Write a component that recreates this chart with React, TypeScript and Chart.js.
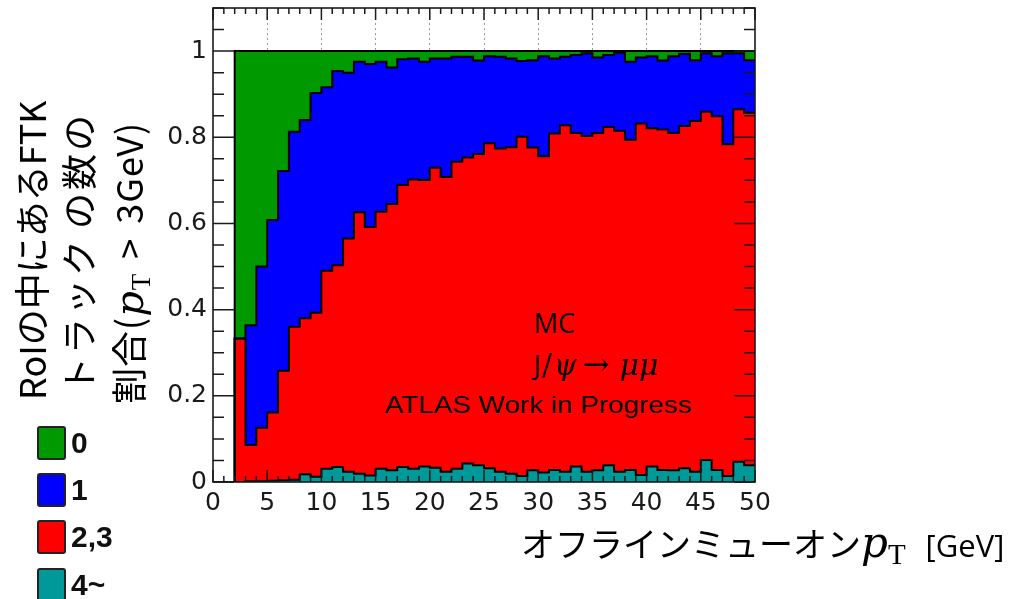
import React, { useEffect, useRef } from "react";
import { Chart, registerables } from "chart.js";

Chart.register(...registerables);

// Histogram bins: low edges (GeV), 1 GeV wide, last upper edge 50
const binLowEdges = [
  0, 1, 2, 3, 4, 5, 6, 7, 8, 9, 10, 11, 12, 13, 14, 15, 16, 17, 18, 19, 20, 21, 22, 23, 24,
  25, 26, 27, 28, 29, 30, 31, 32, 33, 34, 35, 36, 37, 38, 39, 40, 41, 42, 43, 44, 45, 46, 47, 48, 49,
];
const lastUpperEdge = 50;

// fraction of RoIs with 4 or more FTK tracks
const frac4plus = [
  0, 0, 0, 0.002, 0.002, 0.003, 0.004, 0.005, 0.018, 0.012, 0.031, 0.035, 0.024, 0.019, 0.015,
  0.031, 0.027, 0.035, 0.031, 0.036, 0.033, 0.024, 0.031, 0.043, 0.039, 0.032, 0.024, 0.019, 0.014,
  0.027, 0.022, 0.028, 0.024, 0.036, 0.024, 0.027, 0.039, 0.024, 0.028, 0.016, 0.036, 0.028, 0.027,
  0.032, 0.024, 0.051, 0.028, 0.014, 0.047, 0.039,
];
// fraction with 2 or 3 tracks
const frac23 = [
  0, 0, 0.333, 0.084, 0.124, 0.158, 0.254, 0.355, 0.362, 0.381, 0.459, 0.468, 0.541, 0.607, 0.577,
  0.596, 0.618, 0.654, 0.671, 0.665, 0.696, 0.684, 0.712, 0.71, 0.722, 0.754, 0.75, 0.758, 0.787,
  0.749, 0.734, 0.781, 0.804, 0.774, 0.779, 0.783, 0.785, 0.791, 0.766, 0.816, 0.785, 0.79, 0.783,
  0.794, 0.814, 0.808, 0.821, 0.77, 0.818, 0.818,
];
// fraction with exactly 1 track
const frac1 = [
  0, 0, 0, 0.278, 0.374, 0.447, 0.464, 0.453, 0.46, 0.51, 0.426, 0.451, 0.385, 0.349, 0.378, 0.348,
  0.317, 0.292, 0.281, 0.274, 0.254, 0.275, 0.244, 0.234, 0.217, 0.202, 0.213, 0.206, 0.176, 0.203,
  0.232, 0.174, 0.159, 0.181, 0.192, 0.175, 0.167, 0.181, 0.181, 0.153, 0.167, 0.16, 0.178, 0.168,
  0.141, 0.136, 0.139, 0.211, 0.13, 0.122,
];
// fraction with no track
const frac0 = [
  0, 0, 0.667, 0.636, 0.5, 0.392, 0.278, 0.187, 0.16, 0.097, 0.084, 0.046, 0.05, 0.025, 0.03, 0.025,
  0.038, 0.019, 0.017, 0.025, 0.017, 0.017, 0.013, 0.013, 0.022, 0.012, 0.013, 0.017, 0.023, 0.021,
  0.012, 0.017, 0.013, 0.009, 0.005, 0.015, 0.009, 0.004, 0.025, 0.015, 0.012, 0.022, 0.012, 0.006,
  0.021, 0.005, 0.012, 0.005, 0.005, 0.021,
];

const seriesLabels = ["4~", "2,3", "1", "0"];
const seriesColors = ["#009999", "#ff0000", "#0000ff", "#009900"];
const legendOrder = [3, 2, 1, 0];

const xTickLabels = [0, 5, 10, 15, 20, 25, 30, 35, 40, 45, 50];
const yTickLabels = [0, 0.2, 0.4, 0.6, 0.8, 1];
const yAxisMax = 1.1;

const toSteps = (vals: number[]) => [
  ...binLowEdges.map((x, i) => ({ x, y: vals[i] })),
  { x: lastUpperEdge, y: vals[vals.length - 1] },
];

const framePlugin = {
  id: "rootFrame",
  afterDatasetsDraw(chart: any) {
    const { ctx, chartArea: a, scales } = chart;
    const xs = scales.x;
    const ys = scales.y;
    ctx.save();
    ctx.strokeStyle = "#1a1a1a";
    ctx.lineWidth = 1.5;
    ctx.beginPath();
    for (let v = xs.min; v <= xs.max + 1e-9; v += 1) {
      const px = xs.getPixelForValue(v);
      const len = Math.abs(v % 5) < 1e-9 ? 12 : 6;
      ctx.moveTo(px, a.bottom);
      ctx.lineTo(px, a.bottom - len);
      ctx.moveTo(px, a.top);
      ctx.lineTo(px, a.top + len);
    }
    for (let k = 0; k * 0.05 <= ys.max + 1e-9; k++) {
      const py = ys.getPixelForValue(k * 0.05);
      const len = k % 4 === 0 ? 21 : 11;
      ctx.moveTo(a.left, py);
      ctx.lineTo(a.left + len, py);
      ctx.moveTo(a.right, py);
      ctx.lineTo(a.right - len, py);
    }
    ctx.stroke();
    ctx.lineWidth = 1.6;
    ctx.strokeRect(a.left, a.top, a.right - a.left, a.bottom - a.top);
    ctx.restore();
  },
};

function ChartCanvas() {
  const ref = useRef<HTMLCanvasElement | null>(null);
  useEffect(() => {
    if (!ref.current) return;
    const allFracs = [frac4plus, frac23, frac1, frac0];
    const chart = new Chart(ref.current, {
      type: "line",
      data: {
        datasets: allFracs.map((vals, i) => ({
          label: seriesLabels[i],
          data: toSteps(vals),
          stepped: "before",
          borderColor: "#000",
          borderWidth: 2,
          backgroundColor: seriesColors[i],
          fill: i === 0 ? "origin" : "-1",
          pointRadius: 0,
          pointHoverRadius: 0,
        })),
      },
      options: {
        responsive: false,
        maintainAspectRatio: false,
        animation: false,
        events: [],
        layout: { padding: { left: 0, top: 8, right: 258, bottom: 0 } },
        plugins: {
          legend: { display: false },
          tooltip: { enabled: false },
          title: { display: false },
          filler: { drawTime: "beforeDatasetsDraw" },
        },
        scales: {
          x: {
            type: "linear",
            min: 0,
            max: 50,
            afterBuildTicks: (scale: any) => {
              scale.ticks = xTickLabels.map((v) => ({ value: v }));
            },
            afterFit: (scale: any) => {
              scale.height = 117;
              scale.paddingLeft = 0;
              scale.paddingRight = 0;
            },
            ticks: {
              font: { family: "DejaVu Sans", size: 25 },
              color: "#1a1a1a",
              padding: 6,
              maxRotation: 0,
              autoSkip: false,
              callback: (v: any) => String(v),
            },
            grid: {
              drawTicks: false,
              lineWidth: 1,
              color: (c: any) =>
                c.tick && (c.tick.value === 0 || c.tick.value === 50) ? "rgba(0,0,0,0)" : "#9a9a9a",
            },
            border: { display: false, dash: [2, 3] },
          },
          y: {
            type: "linear",
            stacked: true,
            min: 0,
            max: yAxisMax,
            afterBuildTicks: (scale: any) => {
              scale.ticks = yTickLabels.map((v) => ({ value: v }));
            },
            afterFit: (scale: any) => {
              scale.width = 213;
              scale.paddingTop = 0;
              scale.paddingBottom = 0;
            },
            ticks: {
              font: { family: "DejaVu Sans", size: 25 },
              color: "#1a1a1a",
              padding: 6,
              autoSkip: false,
              callback: (v: any) => (v === 0 ? "0" : v === 1 ? "1" : Number(v).toFixed(1)),
            },
            grid: { display: false, drawTicks: false },
            border: { display: false },
          },
        },
      },
      plugins: [framePlugin],
    } as any);
    return () => chart.destroy();
  }, []);
  return (
    <canvas
      ref={ref}
      width={1013}
      height={599}
      style={{ position: "absolute", left: 0, top: 0, width: 1013, height: 599 }}
    />
  );
}

const jp = '"Noto Sans CJK JP", "Noto Sans", sans-serif';
const mathItalic: React.CSSProperties = {
  fontFamily: '"DejaVu Serif", "Liberation Serif", serif',
  fontStyle: "italic",
};
const mathSub: React.CSSProperties = {
  fontFamily: '"Liberation Serif", "DejaVu Serif", serif',
  fontSize: "0.68em",
  position: "relative",
  top: "0.25em",
};

function RotLine({
  cx,
  bottom,
  spacing,
  children,
}: {
  cx: number;
  bottom: number;
  spacing?: number;
  children: any;
}) {
  return (
    <div
      style={{
        position: "absolute",
        left: cx - 20,
        top: bottom,
        height: 40,
        lineHeight: "40px",
        fontSize: 36,
        fontFamily: jp,
        color: "#000",
        whiteSpace: "nowrap",
        letterSpacing: spacing || 0,
        transform: "rotate(-90deg)",
        transformOrigin: "0 0",
      }}
    >
      {children}
    </div>
  );
}

export default function App() {
  return (
    <div
      style={{
        position: "absolute",
        left: 0,
        top: 0,
        width: 1013,
        height: 599,
        background: "#fff",
        overflow: "hidden",
      }}
    >
      <ChartCanvas />

      {/* y-axis title */}
      <RotLine cx={30} bottom={400}>RoIの中にあるFTK</RotLine>
      <RotLine cx={77} bottom={393} spacing={3}>
        トラック<span style={{ marginLeft: 8 }}>の数の</span>
      </RotLine>
      <RotLine cx={127} bottom={404} spacing={1}>
        割合(<span style={{ ...mathItalic, fontSize: 40 }}>p</span>
        <span style={{ ...mathSub, fontSize: 27 }}>T</span>
        <span style={{ marginLeft: 14, marginRight: 14 }}>&gt;</span>3GeV)
      </RotLine>

      {/* x-axis title */}
      <div
        style={{
          position: "absolute",
          left: 521,
          top: 526,
          fontSize: 34,
          lineHeight: "34px",
          fontFamily: jp,
          color: "#000",
          whiteSpace: "nowrap",
        }}
      >
        オフラインミューオン<span style={{ ...mathItalic, fontSize: 42 }}>p</span>
        <span style={{ ...mathSub, fontSize: 29 }}>T</span>
        <span style={{ fontFamily: '"Open Sans", sans-serif', fontSize: 31, marginLeft: 20 }}>
          [GeV]
        </span>
      </div>

      {/* legend */}
      {legendOrder.map((si, k) => (
        <div
          key={si}
          style={{
            position: "absolute",
            left: 37,
            top: 426 + k * 47.4,
            height: 33,
            display: "flex",
            alignItems: "center",
          }}
        >
          <div
            style={{
              width: 25,
              height: 30,
              background: seriesColors[si],
              border: "2px solid #222",
              borderRadius: 3,
            }}
          />
          <span
            style={{
              marginLeft: 5,
              fontFamily: '"Liberation Sans", Arial, sans-serif',
              fontWeight: "bold",
              fontSize: 30,
              color: "#111",
            }}
          >
            {seriesLabels[si]}
          </span>
        </div>
      ))}

      {/* annotations */}
      <div
        style={{
          position: "absolute",
          left: 534,
          top: 309,
          fontSize: 27,
          lineHeight: "27px",
          fontFamily: '"Open Sans", sans-serif',
          color: "#000",
        }}
      >
        MC
      </div>
      <div
        style={{
          position: "absolute",
          left: 534,
          top: 349,
          fontSize: 29,
          lineHeight: "30px",
          fontFamily: '"DejaVu Serif", "Liberation Serif", serif',
          color: "#000",
          whiteSpace: "nowrap",
        }}
      >
        <span style={{ fontFamily: '"Open Sans", sans-serif', fontSize: 27 }}>J</span>
        <span style={{ marginLeft: 1 }}>/</span>
        <span style={{ fontStyle: "italic", marginLeft: 2 }}>ψ</span>
        <span style={{ marginLeft: 6, marginRight: 10, fontSize: 32 }}>→</span>
        <span style={{ fontStyle: "italic", fontSize: 30 }}>μμ</span>
      </div>
      <div
        style={{
          position: "absolute",
          left: 385,
          top: 393,
          fontSize: 24,
          lineHeight: "24px",
          fontFamily: '"Liberation Sans", Arial, sans-serif',
          color: "#000",
          whiteSpace: "nowrap",
          transform: "scaleX(1.16)",
          transformOrigin: "0 0",
        }}
      >
        ATLAS Work in Progress
      </div>
    </div>
  );
}
